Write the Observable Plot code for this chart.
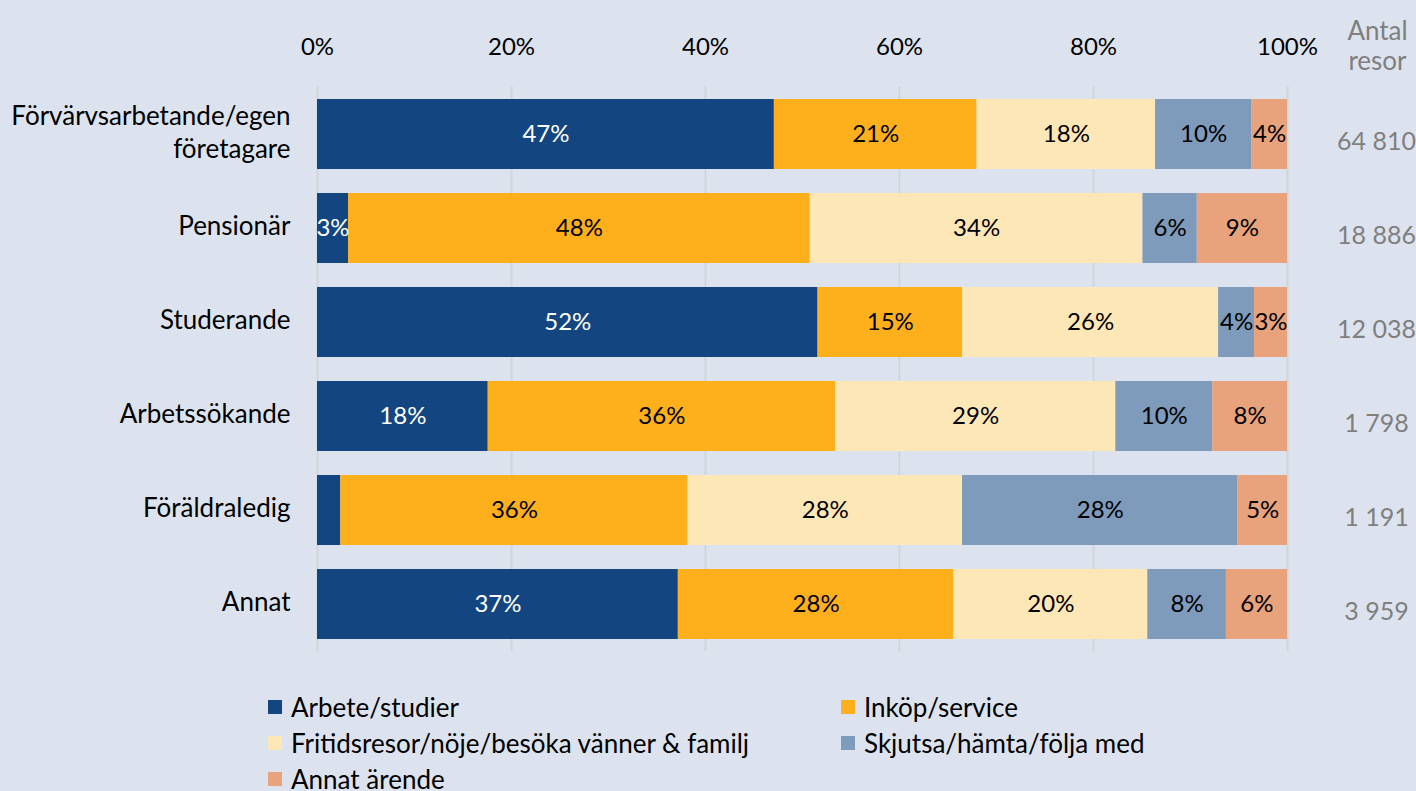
<!DOCTYPE html>
<html>
<head>
<meta charset="utf-8">
<script src="https://cdn.jsdelivr.net/npm/d3@7"></script>
<script src="https://cdn.jsdelivr.net/npm/@observablehq/plot@0.6"></script>
<style>
  html, body { margin: 0; padding: 0; background: #DDE3EE; }
  body { width: 1416px; height: 791px; overflow: hidden; font-family: Lato, "Noto Sans", sans-serif; }
  #legend { display: grid; grid-template-columns: 573px 573px; margin-left: 268px; margin-top: 9px; }
  .item { height: 36px; display: flex; align-items: center; font-size: 26px; color: #000; white-space: nowrap; }
  .sw { width: 14px; height: 14px; margin-right: 9px; flex: none; }
</style>
</head>
<body>
<div id="chart"></div>
<div id="legend"></div>
<script>
const categories = ["Förvärvsarbetande/egen\nföretagare", "Pensionär", "Studerande", "Arbetssökande", "Föräldraledig", "Annat"];
const series = ["Arbete/studier", "Inköp/service", "Fritidsresor/nöje/besöka vänner & familj", "Skjutsa/hämta/följa med", "Annat ärende"];
const colors = ["#134680", "#FDB01B", "#FEE7B6", "#7E9BBB", "#E8A27C"];
const arbete  = [47.1, 3.2, 51.6, 17.6, 2.4, 37.2];
const inkop   = [20.9, 47.6, 14.9, 35.8, 35.8, 28.4];
const fritid  = [18.4, 34.3, 26.4, 28.9, 28.3, 20.0];
const skjutsa = [9.9, 5.6, 3.7, 10.0, 28.4, 8.1];
const annat   = [3.7, 9.3, 3.4, 7.7, 5.1, 6.3];
const antal   = [64810, 18886, 12038, 1798, 1191, 3959];
const xTicks  = [0, 20, 40, 60, 80, 100];

const seriesValues = [arbete, inkop, fritid, skjutsa, annat];
const data = [];
series.forEach((s, si) => {
  categories.forEach((c, ci) => {
    data.push({cat: c, series: s, value: seriesValues[si][ci], si});
  });
});
const rows = categories.map((c, i) => ({cat: c, antal: antal[i]}));
const fmtAntal = n => d3.format(",")(n).replace(/,/g, " ");

const chart = Plot.plot({
  width: 1416,
  height: 680,
  marginLeft: 317,
  marginRight: 129,
  marginTop: 86,
  marginBottom: 29,
  style: {background: "transparent", fontFamily: "Lato, 'Noto Sans', sans-serif", fontSize: "24px", color: "#000"},
  x: {domain: [0, 100], axis: null},
  y: {domain: categories, axis: null, paddingInner: 0.26, paddingOuter: 0.13},
  color: {domain: series, range: colors},
  marks: [
    Plot.ruleX(xTicks, {stroke: "#d2d5da", strokeWidth: 2}),
    Plot.barX(data, Plot.stackX({x: "value", y: "cat", fill: "series", order: series})),
    Plot.text(data, Plot.stackX({
      x: "value", y: "cat", z: "series", order: series,
      text: d => d.value >= 3 ? Math.round(d.value) + "%" : "",
      fill: d => d.si === 0 ? "#ffffff" : "#000000",
      fontSize: 24
    })),
    Plot.text(xTicks, {x: d => d, text: d => d + "%", frameAnchor: "top", lineAnchor: "middle", dy: -39, fontSize: 24, fill: "#000"}),
    Plot.text(rows, {x: 0, y: "cat", text: "cat", textAnchor: "end", dx: -27, dy: -4, lineHeight: 1.27, fontSize: 26, fill: "#000"}),
    Plot.text(rows, {x: 100, y: "cat", text: d => fmtAntal(d.antal), dx: 89, dy: 7, fontSize: 25, fill: "#7f7f7f"}),
    Plot.text(["Antal\nresor"], {x: 100, text: d => d, frameAnchor: "top", lineAnchor: "middle", dx: 90, dy: -41, lineHeight: 1.15, fontSize: 26, fill: "#7f7f7f"})
  ]
});
document.getElementById("chart").appendChild(chart);

const legend = document.getElementById("legend");
series.forEach((s, i) => {
  const it = document.createElement("div");
  it.className = "item";
  const sw = document.createElement("span");
  sw.className = "sw";
  sw.style.background = colors[i];
  it.appendChild(sw);
  it.appendChild(document.createTextNode(s));
  legend.appendChild(it);
});
</script>
</body>
</html>
